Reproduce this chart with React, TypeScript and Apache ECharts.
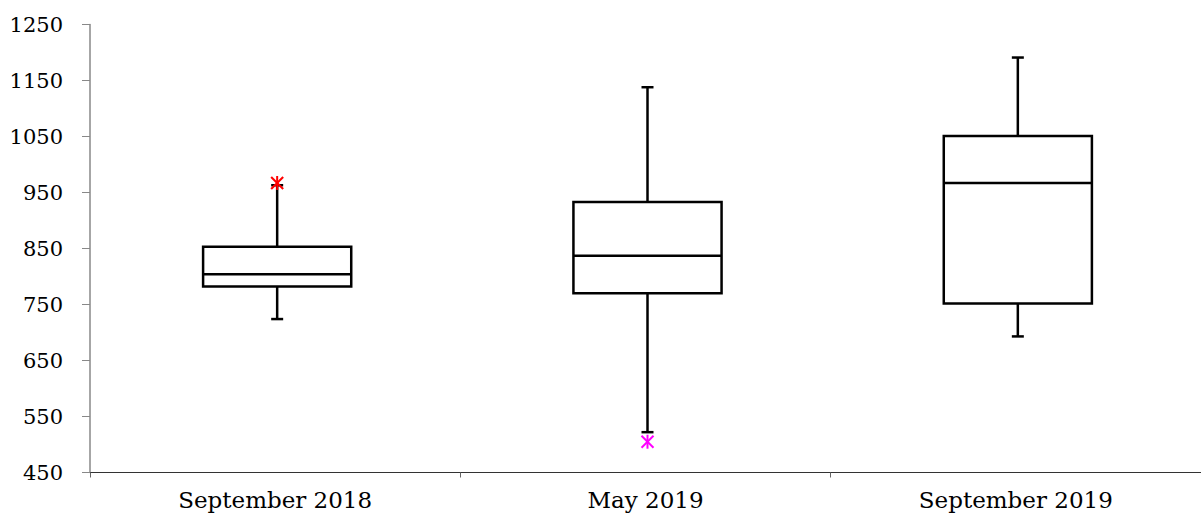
import React, { useEffect, useRef } from "react";
import * as echarts from "echarts";

const categories = ["September 2018", "May 2019", "September 2019"];
// [min, Q1, median, Q3, max]
const boxValues = [
  [724, 782, 804, 853, 963],
  [522, 770, 837, 933, 1138],
  [693, 752, 967, 1051, 1191],
];
const outlierCategoryIndex = [0, 1];
const outlierValues = [967, 505];
const outlierColors = ["#ff0000", "#ff00ff"];
const yTicks = { min: 450, max: 1250, interval: 100 };

export default function App() {
  const ref = useRef<HTMLDivElement>(null);
  useEffect(() => {
    if (!ref.current) return;
    const chart = echarts.init(ref.current, null, { renderer: "svg" });
    const font = "DejaVu Serif";
    const boxData = boxValues.map((v, i) => [i, ...v]);
    const outData = outlierValues.map((v, i) => [outlierCategoryIndex[i], v, i]);
    chart.setOption({
      animation: false,
      grid: { left: 90, right: 0, top: 24.5, bottom: 44.5, containLabel: false },
      xAxis: {
        type: "category",
        data: categories,
        boundaryGap: true,
        axisLine: { lineStyle: { color: "#333", width: 1 } },
        axisTick: { show: true, length: 5, lineStyle: { color: "#666" } },
        axisLabel: { color: "#000", fontFamily: font, fontSize: 23, margin: 16 },
        splitLine: { show: false },
      },
      yAxis: {
        type: "value",
        min: yTicks.min,
        max: yTicks.max,
        interval: yTicks.interval,
        axisLine: { show: true, lineStyle: { color: "#888", width: 1.5 } },
        axisTick: { show: true, length: 8, lineStyle: { color: "#888" } },
        axisLabel: {
          color: "#000",
          fontFamily: font,
          fontSize: 21,
          margin: 27,
          formatter: (v: number) => String(v),
        },
        splitLine: { show: false },
      },
      series: [
        {
          type: "custom",
          data: boxData,
          renderItem: (params: any, api: any) => {
            const x = api.value(0);
            const pMin = api.coord([x, api.value(1)]);
            const pQ1 = api.coord([x, api.value(2)]);
            const pMed = api.coord([x, api.value(3)]);
            const pQ3 = api.coord([x, api.value(4)]);
            const pMax = api.coord([x, api.value(5)]);
            const bw = api.size([1, 0])[0] * 0.4;
            const cx = pMed[0] + 2;
            const cap = 6;
            const st = { stroke: "#000", lineWidth: 2.5, fill: null };
            return {
              type: "group",
              children: [
                { type: "line", shape: { x1: cx, y1: pMax[1], x2: cx, y2: pQ3[1] }, style: st },
                { type: "line", shape: { x1: cx, y1: pMin[1], x2: cx, y2: pQ1[1] }, style: st },
                { type: "line", shape: { x1: cx - cap, y1: pMax[1], x2: cx + cap, y2: pMax[1] }, style: st },
                { type: "line", shape: { x1: cx - cap, y1: pMin[1], x2: cx + cap, y2: pMin[1] }, style: st },
                {
                  type: "rect",
                  shape: { x: cx - bw / 2, y: pQ3[1], width: bw, height: pQ1[1] - pQ3[1] },
                  style: { stroke: "#000", lineWidth: 2.5, fill: "#fff" },
                },
                { type: "line", shape: { x1: cx - bw / 2, y1: pMed[1], x2: cx + bw / 2, y2: pMed[1] }, style: st },
              ],
            };
          },
        },
        {
          type: "custom",
          data: outData,
          z: 5,
          renderItem: (params: any, api: any) => {
            const p = api.coord([api.value(0), api.value(1)]);
            const color = outlierColors[api.value(2)];
            const s = 6;
            const cx = p[0] + 2;
            const st = { stroke: color, lineWidth: 2, fill: null };
            return {
              type: "group",
              children: [
                { type: "line", shape: { x1: cx - s, y1: p[1] - s, x2: cx + s, y2: p[1] + s }, style: st },
                { type: "line", shape: { x1: cx - s, y1: p[1] + s, x2: cx + s, y2: p[1] - s }, style: st },
                { type: "line", shape: { x1: cx, y1: p[1] - s - 1, x2: cx, y2: p[1] + s + 1 }, style: st },
              ],
            };
          },
        },
      ],
    });
    return () => chart.dispose();
  }, []);
  return <div ref={ref} style={{ width: 1201, height: 517, position: "absolute", left: 0, top: 0 }} />;
}
